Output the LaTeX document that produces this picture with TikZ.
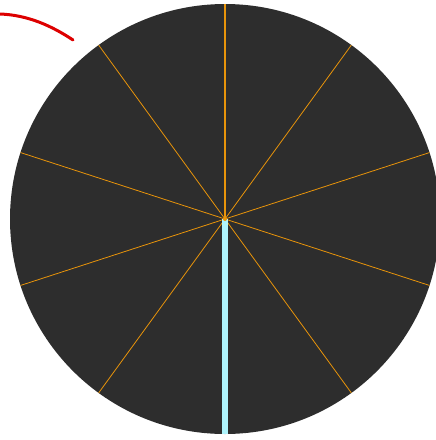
\documentclass[tikz,border=0pt]{standalone}
\definecolor{disc}{HTML}{2D2D2D}
\definecolor{spoke}{HTML}{E8940A}
\definecolor{hand}{HTML}{AEF4FC}
\definecolor{arcred}{HTML}{DD0000}
\tikzset{spokeline/.style={spoke,line width=0.8pt},
  handline/.style={hand,line width=5.5pt},
  redarc/.style={arcred,line width=3pt,line cap=round}}
\begin{document}
\begin{tikzpicture}[x=1pt,y=-1pt]
\useasboundingbox (0,0) rectangle (436,440);
\clip (0,0) rectangle (436,440);
\coordinate (c) at (225,219);
\fill[disc] (c) circle[radius=215];
\foreach \a in {126,162,198,234,306,342,378,414} {
  \draw[spokeline] (c) -- ++(\a:215 and -215);
}
\draw[spoke,line width=1.4pt] (c) -- ++(0,-215);
\draw[handline] (c) -- ++(0,215);
\fill[spoke] (c) circle[radius=2];
\draw[redarc] (0,14) .. controls (28,15) and (52,26) .. (73,40);
\end{tikzpicture}
\end{document}
